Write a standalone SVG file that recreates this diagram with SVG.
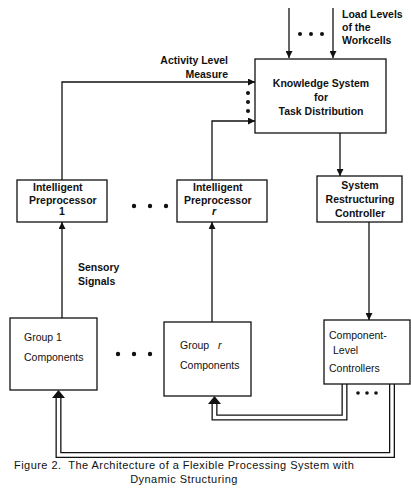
<svg xmlns="http://www.w3.org/2000/svg" width="411" height="490" viewBox="0 0 411 490">
<defs>
<marker id="ah" viewBox="0 0 10 10" refX="10" refY="5" markerWidth="7" markerHeight="7" markerUnits="userSpaceOnUse" orient="auto">
<path d="M0,0 L10,5 L0,10 z" fill="#111"/>
</marker>
</defs>
<style>
.box{fill:#fff;stroke:#111;stroke-width:1.3}
.ln{fill:none;stroke:#111;stroke-width:1.3}
.pipeO{fill:none;stroke:#111;stroke-width:6}
.pipeI{fill:none;stroke:#fff;stroke-width:3.4}
.t{font-family:"Liberation Sans",Arial,sans-serif;font-size:10.5px;fill:#111}
.b{font-weight:bold}
.c{text-anchor:middle}
.cap{font-family:"Liberation Sans",Arial,sans-serif;font-size:11px;letter-spacing:0.45px;fill:#111}
.dot{fill:#111}
</style>
<rect width="411" height="490" fill="#fff"/>

<g id="connectors">
  <line class="ln" x1="289" y1="8" x2="289" y2="58" marker-end="url(#ah)"/>
  <line class="ln" x1="333" y1="8" x2="333" y2="58" marker-end="url(#ah)"/>
  <circle class="dot" cx="300" cy="34" r="2"/>
  <circle class="dot" cx="311" cy="34" r="2"/>
  <circle class="dot" cx="322" cy="34" r="2"/>
  <path class="ln" d="M62,180 L62,82 L255,82" marker-end="url(#ah)"/>
  <path class="ln" d="M212,180 L212,121 L255,121" marker-end="url(#ah)"/>
  <circle class="dot" cx="248" cy="93" r="2"/>
  <circle class="dot" cx="248" cy="102" r="2"/>
  <circle class="dot" cx="248" cy="111" r="2"/>
  <line class="ln" x1="340" y1="133" x2="340" y2="176" marker-end="url(#ah)"/>
  <line class="ln" x1="369" y1="222" x2="369" y2="320" marker-end="url(#ah)"/>
  <line class="ln" x1="62" y1="318" x2="62" y2="222" marker-end="url(#ah)"/>
  <line class="ln" x1="212" y1="322" x2="212" y2="222" marker-end="url(#ah)"/>
  <path class="pipeO" d="M344.5,384 L344.5,417.5 L214.5,417.5 L214.5,403"/>
  <path class="pipeI" d="M344.5,384 L344.5,417.5 L214.5,417.5 L214.5,403"/>
  <path d="M208,404 L214.5,396 L221,404 z" fill="#111"/>
  <path class="pipeO" d="M392,384 L392,455 L58.5,455 L58.5,397"/>
  <path class="pipeI" d="M392,384 L392,455 L58.5,455 L58.5,397"/>
  <path d="M52,398 L58.5,390 L65,398 z" fill="#111"/>
  <circle class="dot" cx="358" cy="393" r="1.8"/>
  <circle class="dot" cx="367" cy="393" r="1.8"/>
  <circle class="dot" cx="376" cy="393" r="1.8"/>
  <circle class="dot" cx="134" cy="206" r="2.2"/>
  <circle class="dot" cx="150" cy="206" r="2.2"/>
  <circle class="dot" cx="166" cy="206" r="2.2"/>
  <circle class="dot" cx="118" cy="354" r="2.2"/>
  <circle class="dot" cx="134" cy="354" r="2.2"/>
  <circle class="dot" cx="150" cy="354" r="2.2"/>
</g>

<g id="labels">
  <text class="t b" x="342" y="18">Load Levels</text>
  <text class="t b" x="342" y="31">of the</text>
  <text class="t b" x="342" y="44">Workcells</text>
  <text class="t b" x="228" y="64" text-anchor="end">Activity Level</text>
  <text class="t b" x="228" y="78" text-anchor="end">Measure</text>
  <text class="t b" x="78" y="271">Sensory</text>
  <text class="t b" x="78" y="285">Signals</text>
</g>

<g id="knowledge">
  <rect class="box" x="255" y="59" width="131" height="74"/>
  <text class="t b c" x="321" y="87">Knowledge System</text>
  <text class="t b c" x="321" y="101">for</text>
  <text class="t b c" x="321" y="115">Task Distribution</text>
</g>

<g id="prep1">
  <rect class="box" x="17" y="180" width="90" height="42"/>
  <text class="t b" x="33" y="191">Intelligent</text>
  <text class="t b" x="29" y="204">Preprocessor</text>
  <text class="t b" x="59" y="215">1</text>
</g>

<g id="prepr">
  <rect class="box" x="177" y="180" width="90" height="42"/>
  <text class="t b" x="193" y="191">Intelligent</text>
  <text class="t b" x="184" y="204">Preprocessor</text>
  <text class="t b" x="212" y="215" font-style="italic">r</text>
</g>

<g id="src">
  <rect class="box" x="317" y="176" width="85" height="46"/>
  <text class="t b c" x="360" y="189">System</text>
  <text class="t b c" x="360" y="203">Restructuring</text>
  <text class="t b c" x="360" y="217">Controller</text>
</g>

<g id="group1">
  <rect class="box" x="10" y="318" width="87" height="72"/>
  <text class="t" x="24" y="341">Group 1</text>
  <text class="t" x="24" y="361">Components</text>
</g>

<g id="groupr">
  <rect class="box" x="164" y="322" width="87" height="74"/>
  <text class="t" x="180" y="349">Group <tspan font-style="italic" dx="6">r</tspan></text>
  <text class="t" x="180" y="369">Components</text>
</g>

<g id="clc">
  <rect class="box" x="324" y="320" width="86" height="64"/>
  <text class="t" x="329" y="339">Component-</text>
  <text class="t" x="333" y="354">Level</text>
  <text class="t" x="329" y="372">Controllers</text>
</g>

<g id="caption">
  <text class="cap" x="14" y="469" xml:space="preserve">Figure 2.  The Architecture of a Flexible Processing System with</text>
  <text class="cap" x="184" y="483" text-anchor="middle">Dynamic Structuring</text>
</g>
</svg>
